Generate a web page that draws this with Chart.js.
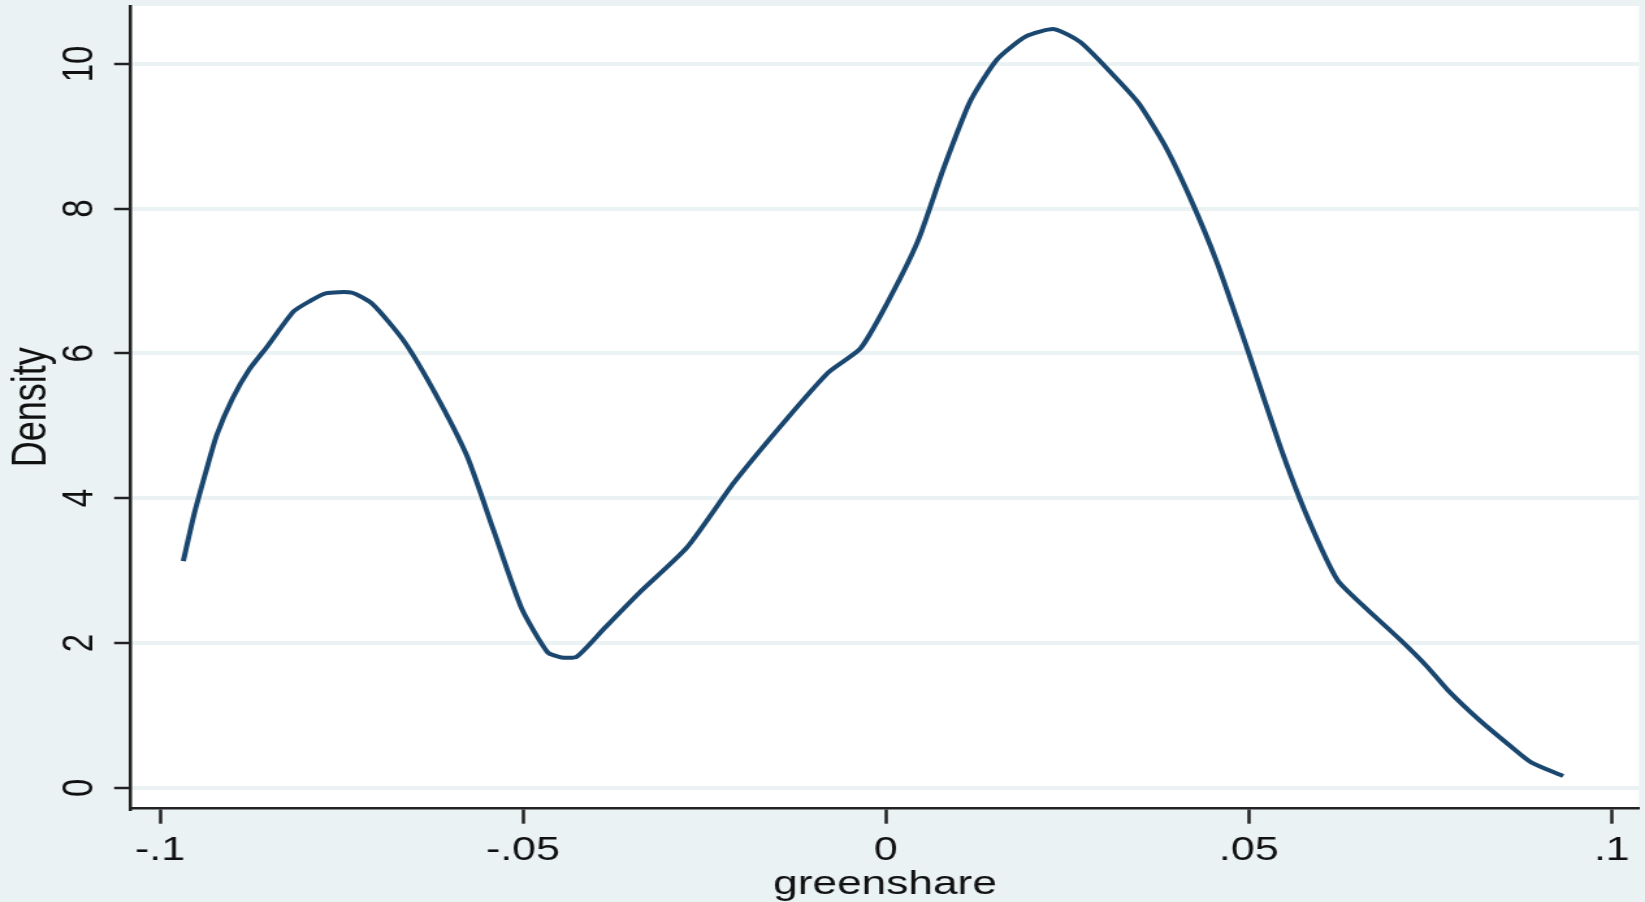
<!DOCTYPE html>
<html>
<head>
<meta charset="utf-8">
<title>greenshare density</title>
<script src="https://cdn.jsdelivr.net/npm/chart.js@4/dist/chart.umd.min.js"></script>
<style>
  html, body { margin: 0; padding: 0; overflow: hidden; background: #eaf2f3; }
  /* the graph is laid out narrow and stretched sideways, like the exported figure */
  #wrap { position: absolute; left: 0; top: 0; width: 1265px; height: 902px;
          transform: scaleX(1.3004); transform-origin: 0 0; }
</style>
</head>
<body>
<div id="wrap"><canvas id="kd"></canvas></div>
<script>
// kernel density of greenshare
const greenshare = [
  -0.0968, -0.0953, -0.0937, -0.0922, -0.0900, -0.0877, -0.0852, -0.0816,
  -0.0794, -0.0772, -0.0736, -0.0707, -0.0664, -0.0621, -0.0577, -0.0541,
  -0.0502, -0.0466, -0.0447, -0.0426, -0.0389, -0.0339, -0.0274, -0.0209,
  -0.0137, -0.0079, -0.0035,  0.0001,  0.0044,  0.0080,  0.0116,  0.0153,
   0.0193,  0.0232,  0.0268,  0.0311,  0.0348,  0.0384,  0.0420,  0.0456,
   0.0499,  0.0543,  0.0579,  0.0622,  0.0658,  0.0709,  0.0745,  0.0774,
   0.0817,  0.0861,  0.0889,  0.0933
];
const density = [
  3.13, 3.78, 4.36, 4.87, 5.38, 5.78, 6.10, 6.58,
  6.72, 6.83, 6.84, 6.68, 6.17, 5.45, 4.58, 3.57,
  2.48, 1.87, 1.80, 1.81, 2.19, 2.70, 3.32, 4.22,
  5.09, 5.74, 6.07, 6.68, 7.55, 8.57, 9.48, 10.06,
  10.38, 10.48, 10.30, 9.87, 9.46, 8.88, 8.13, 7.26,
  6.03, 4.72, 3.78, 2.87, 2.51, 2.04, 1.68, 1.35,
  0.94, 0.57, 0.35, 0.16
];

const xTicks = [-0.1, -0.05, 0, 0.05, 0.1];
const xTickLabels = ["-.1", "-.05", "0", ".05", ".1"];
const yTicks = [0, 2, 4, 6, 8, 10];
const yTickLabels = ["0", "2", "4", "6", "8", "10"];

const STRETCH = 1.3004;          // sideways scale applied to #wrap
const W = 1265, H = 902;
const PLOT = { left: 131 / STRETCH, right: 1639 / STRETCH, top: 6, bottom: 808.7 };

const BG = "#eaf2f3";
const INK = "#111";
const NAVY = "#1a476f";

Chart.defaults.font.family = '"Liberation Sans", Arial, sans-serif';
Chart.defaults.color = INK;

// outer background + white plot region
const backdrop = {
  id: "backdrop",
  beforeDraw(chart) {
    const { ctx, chartArea: a } = chart;
    ctx.save();
    ctx.fillStyle = BG;
    ctx.fillRect(0, 0, chart.width, chart.height);
    ctx.fillStyle = "#fff";
    ctx.fillRect(a.left, a.top, a.right - a.left, a.bottom - a.top);
    ctx.restore();
  }
};

// vertical tick labels on the density axis
const yLabels = {
  id: "yLabels",
  afterDraw(chart) {
    const { ctx } = chart;
    const ys = chart.scales.y;
    ctx.save();
    ctx.font = '33px "Liberation Sans", Arial, sans-serif';
    ctx.fillStyle = INK;
    ctx.textAlign = "center";
    ctx.textBaseline = "middle";
    yTicks.forEach((v, i) => {
      ctx.save();
      ctx.translate(61.8, ys.getPixelForValue(v));
      ctx.rotate(-Math.PI / 2);
      ctx.fillText(yTickLabels[i], 0, 0);
      ctx.restore();
    });
    ctx.restore();
  }
};

new Chart(document.getElementById("kd"), {
  type: "line",
  data: {
    datasets: [{
      data: greenshare.map((x, i) => ({ x, y: density[i] })),
      borderColor: NAVY,
      borderWidth: 4,
      pointRadius: 0,
      tension: 0.2,
      fill: false
    }]
  },
  options: {
    responsive: true,
    maintainAspectRatio: false,
    animation: false,
    layout: { padding: { top: PLOT.top, right: W - PLOT.right, left: 0, bottom: 0 } },
    plugins: { legend: { display: false }, tooltip: { enabled: false } },
    scales: {
      x: {
        type: "linear",
        min: -0.1040,
        max: 0.10376,
        afterBuildTicks: s => { s.ticks = xTicks.map(v => ({ value: v })); },
        afterFit: s => { s.height = H - PLOT.bottom; },
        ticks: {
          autoSkip: false,
          maxRotation: 0,
          padding: 7,
          font: { size: 33 },
          color: INK,
          callback: (v, i) => xTickLabels[i]
        },
        grid: { drawOnChartArea: false, tickLength: 15, tickWidth: 2.5, tickColor: "#222" },
        border: { display: true, color: "#222", width: 2.5 },
        title: {
          display: true,
          text: "greenshare",
          color: INK,
          font: { size: 34, lineHeight: 1 },
          padding: { top: 0, bottom: 0 }
        }
      },
      y: {
        min: -0.29,
        max: 10.8,
        afterBuildTicks: s => { s.ticks = yTicks.map(v => ({ value: v })); },
        afterFit: s => { s.width = PLOT.left; },
        ticks: { display: false },
        grid: { color: BG, lineWidth: 4, tickLength: 13, tickWidth: 2.5, tickColor: "#222" },
        border: { display: true, color: "#222", width: 2.5 },
        title: {
          display: true,
          text: "Density",
          color: INK,
          font: { size: 36, lineHeight: 1 },
          padding: { top: 7.5, bottom: 0 }
        }
      }
    }
  },
  plugins: [backdrop, yLabels]
});
</script>
</body>
</html>
